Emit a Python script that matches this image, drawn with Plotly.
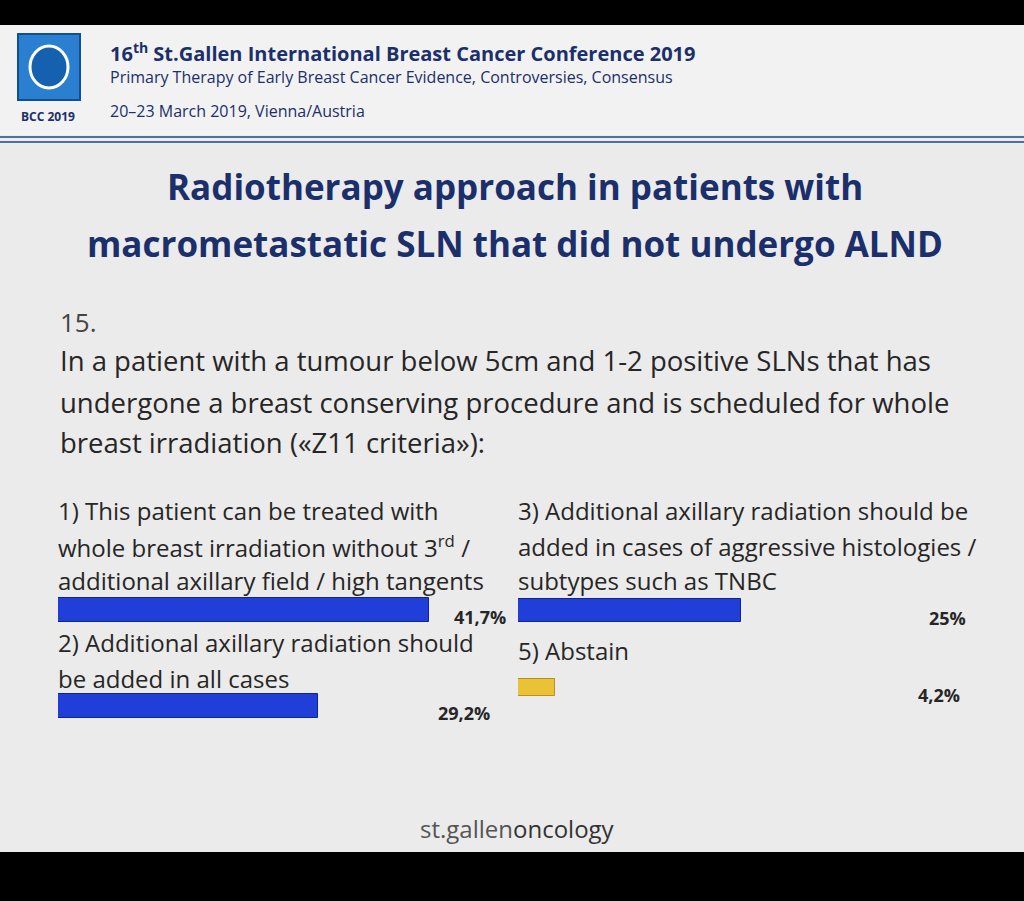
import plotly.graph_objects as go

W, H = 1024, 901

# data
left_labels = ["1)", "2)"]
left_values = [41.7, 29.2]
left_text = ["41,7%", "29,2%"]
right_labels = ["3)", "5)"]
right_values = [25.0, 4.2]
right_text = ["25%", "4,2%"]

BLUE = "#1f3fd8"
GOLD = "#eac236"
NAVY = "#1b2f6b"
TXT = "#262626"


def px(x):
    return x / W


def py(y):
    return 1 - y / H


fig = go.Figure()
fig.add_trace(go.Bar(x=left_values, y=left_labels, orientation="h",
                     marker=dict(color=BLUE, line=dict(color="#10248f", width=1)),
                     width=0.25, xaxis="x", yaxis="y", hoverinfo="skip"))
fig.add_trace(go.Bar(x=right_values, y=right_labels, orientation="h",
                     marker=dict(color=[BLUE, GOLD], line=dict(color=["#10248f", "#b8901c"], width=1)),
                     width=[0.31, 0.22], xaxis="x2", yaxis="y2", hoverinfo="skip"))

ax = dict(visible=False, range=[0, 50], fixedrange=True)
fig.update_layout(
    width=W, height=H, margin=dict(l=0, r=0, t=0, b=0),
    paper_bgcolor="black", plot_bgcolor="rgba(0,0,0,0)",
    showlegend=False, bargap=0,
    xaxis=dict(ax, domain=[px(58), px(58 + 445)]),
    xaxis2=dict(ax, domain=[px(518), px(518 + 445)]),
    yaxis=dict(visible=False, domain=[py(754), py(562)], autorange="reversed",
               categoryorder="array", categoryarray=left_labels, anchor="x"),
    yaxis2=dict(visible=False, domain=[py(726), py(572)], autorange="reversed",
                categoryorder="array", categoryarray=right_labels, anchor="x2"),
    font=dict(family="Open Sans"),
)

shapes = [
    dict(type="rect", xref="paper", yref="paper", x0=0, x1=1, y0=py(852), y1=py(25),
         fillcolor="#ebebeb", line=dict(width=0), layer="below"),
    dict(type="rect", xref="paper", yref="paper", x0=0, x1=1, y0=py(135), y1=py(25),
         fillcolor="#f2f2f2", line=dict(width=0), layer="below"),
    dict(type="line", xref="paper", yref="paper", x0=0, x1=1, y0=py(137), y1=py(137),
         line=dict(color="#4f6f9f", width=2)),
    dict(type="line", xref="paper", yref="paper", x0=0, x1=1, y0=py(142), y1=py(142),
         line=dict(color="#4f6f9f", width=2)),
    dict(type="rect", xref="paper", yref="paper", x0=px(18), x1=px(80), y0=py(100), y1=py(34),
         fillcolor="#2a7fd0", line=dict(color="#0f4f94", width=2)),
    dict(type="circle", xref="paper", yref="paper", x0=px(30), x1=px(68), y0=py(88), y1=py(46),
         fillcolor="#1660b0", line=dict(color="white", width=3)),
]
fig.update_layout(shapes=shapes)


def note(x, y, text, size, color=TXT, bold=False, xanchor="left", family="Open Sans"):
    if bold:
        text = "<b>" + text + "</b>"
    fig.add_annotation(xref="paper", yref="paper", x=px(x), y=py(y), text=text,
                       showarrow=False, xanchor=xanchor, yanchor="middle",
                       font=dict(size=size, color=color, family=family))


note(108, 52, "16<sup>th</sup> St.Gallen International Breast Cancer Conference 2019", 20, NAVY, True)
note(108, 77, "Primary Therapy of Early Breast Cancer Evidence, Controversies, Consensus", 16, NAVY)
note(108, 111, "20–23 March 2019, Vienna/Austria", 16, NAVY)
note(48, 117, "BCC 2019", 12, NAVY, True, "center")

note(515, 187, "Radiotherapy approach in patients with", 35, NAVY, True, "center")
note(515, 243, "macrometastatic SLN that did not undergo ALND", 35, NAVY, True, "center")

note(58, 322, "15.", 26, "#444")
note(58, 361, "In a patient with a tumour below 5cm and 1-2 positive SLNs that has", 27.5)
note(58, 402, "undergone a breast conserving procedure and is scheduled for whole", 27.5)
note(58, 442, "breast irradiation («Z11 criteria»):", 27.5)

note(56, 510, "1) This patient can be treated with", 24)
note(56, 546, "whole breast irradiation without 3<sup>rd</sup> /", 24)
note(56, 580, "additional axillary field / high tangents", 24)
note(56, 642, "2) Additional axillary radiation should", 24)
note(56, 678, "be added in all cases", 24)
note(516, 510, "3) Additional axillary radiation should be", 24)
note(516, 546, "added in cases of aggressive histologies /", 24)
note(516, 580, "subtypes such as TNBC", 24)
note(516, 650, "5) Abstain", 24)

note(508, 617, left_text[0], 18, TXT, True, "right")
note(492, 713, left_text[1], 18, TXT, True, "right")
note(968, 618, right_text[0], 18, TXT, True, "right")
note(962, 695, right_text[1], 18, TXT, True, "right")

note(517, 828, "st.gallen<span style='color:#333'>oncology</span>", 24, "#555", False, "center")

fig.write_html("out.html", config={"displayModeBar": False},
               post_script="document.body.style.margin='0';")
